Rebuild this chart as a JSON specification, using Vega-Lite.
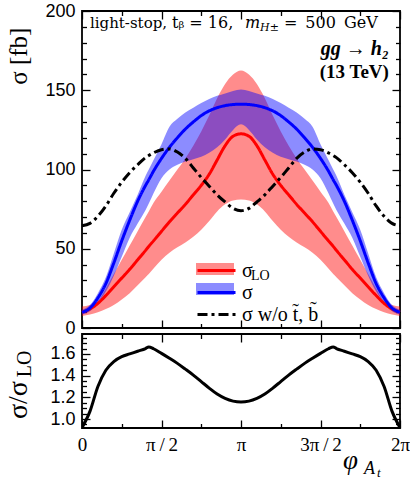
{
  "$schema": "https://vega.github.io/schema/vega-lite/v6.json",
  "background": "white",
  "padding": {"left": 4, "top": 1, "right": 0, "bottom": 0},
  "spacing": 6,
  "bounds": "flush",
  "config": {
    "view": {"stroke": "black", "strokeWidth": 1.8},
    "axis": {"grid": false, "domain": false, "tickColor": "black", "tickWidth": 1.3, "labelColor": "black", "labelFont": "Liberation Sans", "labelFontSize": 18, "title": null},
    "legend": {"padding": 0}
  },
  "datasets": {
    "d": [
      {"phi": 0, "lo_min": 7.5, "lo": 10, "lo_max": 13.5, "nlo_min": 8.5, "nlo": 10, "nlo_max": 11.5, "nosq": 64.5, "ratio": 0.92},
      {"phi": 0.05, "lo_min": 8.5, "lo": 12, "lo_max": 14.5, "nlo_min": 10.5, "nlo": 12.5, "nlo_max": 14.5, "nosq": 66, "ratio": 1.07},
      {"phi": 0.1, "lo_min": 10, "lo": 15.5, "lo_max": 17, "nlo_min": 16, "nlo": 19, "nlo_max": 22, "nosq": 70.5, "ratio": 1.3},
      {"phi": 0.15, "lo_min": 12, "lo": 20.5, "lo_max": 25, "nlo_min": 23, "nlo": 28, "nlo_max": 32, "nosq": 77, "ratio": 1.45},
      {"phi": 0.2, "lo_min": 14.5, "lo": 26, "lo_max": 34, "nlo_min": 33, "nlo": 41, "nlo_max": 47, "nosq": 85, "ratio": 1.53},
      {"phi": 0.25, "lo_min": 18, "lo": 31.5, "lo_max": 43, "nlo_min": 45, "nlo": 55, "nlo_max": 62, "nosq": 92, "ratio": 1.575},
      {"phi": 0.3, "lo_min": 22, "lo": 37, "lo_max": 52, "nlo_min": 57, "nlo": 68, "nlo_max": 73, "nosq": 98, "ratio": 1.6},
      {"phi": 0.35, "lo_min": 27, "lo": 43, "lo_max": 61, "nlo_min": 66, "nlo": 80, "nlo_max": 84, "nosq": 103, "ratio": 1.625},
      {"phi": 0.4, "lo_min": 32, "lo": 49, "lo_max": 70, "nlo_min": 74.5, "nlo": 90, "nlo_max": 96, "nosq": 107.5, "ratio": 1.65},
      {"phi": 0.42, "lo_min": 34, "lo": 51.5, "lo_max": 73.5, "nlo_min": 78.5, "nlo": 93.5, "nlo_max": 100, "nosq": 108.8, "ratio": 1.665},
      {"phi": 0.45, "lo_min": 37.5, "lo": 55, "lo_max": 79, "nlo_min": 85, "nlo": 99, "nlo_max": 106, "nosq": 110.5, "ratio": 1.648},
      {"phi": 0.5, "lo_min": 43, "lo": 61, "lo_max": 86, "nlo_min": 94.5, "nlo": 107, "nlo_max": 116, "nosq": 112.5, "ratio": 1.605},
      {"phi": 0.55, "lo_min": 47.5, "lo": 67, "lo_max": 93, "nlo_min": 100, "nlo": 114, "nlo_max": 127, "nosq": 113, "ratio": 1.56},
      {"phi": 0.6, "lo_min": 51, "lo": 72.5, "lo_max": 100, "nlo_min": 103, "nlo": 120, "nlo_max": 132, "nosq": 111, "ratio": 1.513},
      {"phi": 0.65, "lo_min": 54, "lo": 78, "lo_max": 107, "nlo_min": 105, "nlo": 125.5, "nlo_max": 136, "nosq": 107, "ratio": 1.46},
      {"phi": 0.7, "lo_min": 57.5, "lo": 84, "lo_max": 115, "nlo_min": 106.5, "nlo": 130, "nlo_max": 139, "nosq": 101, "ratio": 1.405},
      {"phi": 0.75, "lo_min": 62, "lo": 90, "lo_max": 124, "nlo_min": 108, "nlo": 134, "nlo_max": 142, "nosq": 95, "ratio": 1.345},
      {"phi": 0.8, "lo_min": 67.5, "lo": 97, "lo_max": 134, "nlo_min": 110.5, "nlo": 137, "nlo_max": 144.5, "nosq": 89.5, "ratio": 1.285},
      {"phi": 0.85, "lo_min": 73.5, "lo": 106, "lo_max": 145, "nlo_min": 114, "nlo": 139, "nlo_max": 146.5, "nosq": 84, "ratio": 1.23},
      {"phi": 0.9, "lo_min": 78, "lo": 115, "lo_max": 154, "nlo_min": 119, "nlo": 140.3, "nlo_max": 148, "nosq": 79.5, "ratio": 1.19},
      {"phi": 0.95, "lo_min": 80.5, "lo": 121, "lo_max": 160, "nlo_min": 125, "nlo": 141, "nlo_max": 149.5, "nosq": 75.5, "ratio": 1.165},
      {"phi": 1.0, "lo_min": 81, "lo": 122.5, "lo_max": 162.5, "nlo_min": 128.5, "nlo": 141.2, "nlo_max": 150.5, "nosq": 74, "ratio": 1.157},
      {"phi": 1.05, "lo_min": 80.5, "lo": 121, "lo_max": 160, "nlo_min": 125, "nlo": 141, "nlo_max": 149.5, "nosq": 75.5, "ratio": 1.165},
      {"phi": 1.1, "lo_min": 78, "lo": 115, "lo_max": 154, "nlo_min": 119, "nlo": 140.3, "nlo_max": 148, "nosq": 79.5, "ratio": 1.19},
      {"phi": 1.15, "lo_min": 73.5, "lo": 106, "lo_max": 145, "nlo_min": 114, "nlo": 139, "nlo_max": 146.5, "nosq": 84, "ratio": 1.23},
      {"phi": 1.2, "lo_min": 67.5, "lo": 97, "lo_max": 134, "nlo_min": 110.5, "nlo": 137, "nlo_max": 144.5, "nosq": 89.5, "ratio": 1.285},
      {"phi": 1.25, "lo_min": 62, "lo": 90, "lo_max": 124, "nlo_min": 108, "nlo": 134, "nlo_max": 142, "nosq": 95, "ratio": 1.345},
      {"phi": 1.3, "lo_min": 57.5, "lo": 84, "lo_max": 115, "nlo_min": 106.5, "nlo": 130, "nlo_max": 139, "nosq": 101, "ratio": 1.405},
      {"phi": 1.35, "lo_min": 54, "lo": 78, "lo_max": 107, "nlo_min": 105, "nlo": 125.5, "nlo_max": 136, "nosq": 107, "ratio": 1.46},
      {"phi": 1.4, "lo_min": 51, "lo": 72.5, "lo_max": 100, "nlo_min": 103, "nlo": 120, "nlo_max": 132, "nosq": 111, "ratio": 1.513},
      {"phi": 1.45, "lo_min": 47.5, "lo": 67, "lo_max": 93, "nlo_min": 100, "nlo": 114, "nlo_max": 127, "nosq": 113, "ratio": 1.56},
      {"phi": 1.5, "lo_min": 43, "lo": 61, "lo_max": 86, "nlo_min": 94.5, "nlo": 107, "nlo_max": 116, "nosq": 112.5, "ratio": 1.605},
      {"phi": 1.55, "lo_min": 37.5, "lo": 55, "lo_max": 79, "nlo_min": 85, "nlo": 99, "nlo_max": 106, "nosq": 110.5, "ratio": 1.648},
      {"phi": 1.58, "lo_min": 34, "lo": 51.5, "lo_max": 73.5, "nlo_min": 78.5, "nlo": 93.5, "nlo_max": 100, "nosq": 108.8, "ratio": 1.665},
      {"phi": 1.6, "lo_min": 32, "lo": 49, "lo_max": 70, "nlo_min": 74.5, "nlo": 90, "nlo_max": 96, "nosq": 107.5, "ratio": 1.65},
      {"phi": 1.65, "lo_min": 27, "lo": 43, "lo_max": 61, "nlo_min": 66, "nlo": 80, "nlo_max": 84, "nosq": 103, "ratio": 1.625},
      {"phi": 1.7, "lo_min": 22, "lo": 37, "lo_max": 52, "nlo_min": 57, "nlo": 68, "nlo_max": 73, "nosq": 98, "ratio": 1.6},
      {"phi": 1.75, "lo_min": 18, "lo": 31.5, "lo_max": 43, "nlo_min": 45, "nlo": 55, "nlo_max": 62, "nosq": 92, "ratio": 1.575},
      {"phi": 1.8, "lo_min": 14.5, "lo": 26, "lo_max": 34, "nlo_min": 33, "nlo": 41, "nlo_max": 47, "nosq": 85, "ratio": 1.53},
      {"phi": 1.85, "lo_min": 12, "lo": 20.5, "lo_max": 25, "nlo_min": 23, "nlo": 28, "nlo_max": 32, "nosq": 77, "ratio": 1.45},
      {"phi": 1.9, "lo_min": 10, "lo": 15.5, "lo_max": 17, "nlo_min": 16, "nlo": 19, "nlo_max": 22, "nosq": 70.5, "ratio": 1.3},
      {"phi": 1.95, "lo_min": 8.5, "lo": 12, "lo_max": 14.5, "nlo_min": 10.5, "nlo": 12.5, "nlo_max": 14.5, "nosq": 66, "ratio": 1.07},
      {"phi": 2.0, "lo_min": 7.5, "lo": 10, "lo_max": 13.5, "nlo_min": 8.5, "nlo": 10, "nlo_max": 11.5, "nosq": 64.5, "ratio": 0.92}
    ]
  },
  "vconcat": [
    {
      "width": 318,
      "height": 317,
      "data": {"name": "d"},
      "resolve": {"axis": {"x": "independent", "y": "independent"}},
      "layer": [
        {
          "mark": {"type": "area", "interpolate": "monotone"},
          "encoding": {
            "x": {"field": "phi", "type": "quantitative", "scale": {"domain": [0, 2], "nice": false, "zero": false},
                  "axis": {"orient": "bottom", "values": [0, 0.5, 1, 1.5, 2], "labels": false, "tickSize": -8}},
            "y": {"field": "lo_min", "type": "quantitative", "scale": {"domain": [0, 200], "nice": false},
                  "axis": {"orient": "left", "values": [0, 50, 100, 150, 200], "tickSize": -8, "labelPadding": 15}},
            "y2": {"field": "lo_max"},
            "fill": {"datum": "LO", "type": "nominal",
                     "scale": {"domain": ["LO", "NLO"], "range": ["rgba(255,0,0,0.45)", "rgba(0,0,255,0.45)"]},
                     "legend": {"orient": "none", "legendX": 123, "legendY": 248, "title": null,
                                "symbolType": "M-1.9,-0.6H1.9V0.6H-1.9Z", "symbolSize": 400, "symbolStrokeWidth": 0,
                                "labelFont": "Liberation Serif", "labelFontSize": 20, "labelOffset": 14,
                                "labelExpr": "''", "rowPadding": 0}}
          }
        },
        {
          "mark": {"type": "area", "interpolate": "monotone"},
          "encoding": {
            "x": {"field": "phi", "type": "quantitative",
                  "axis": {"orient": "bottom", "values": [0.25, 0.75, 1.25, 1.75], "labels": false, "tickSize": -4.5}},
            "y": {"field": "nlo_min", "type": "quantitative",
                  "axis": {"orient": "left", "values": [10, 20, 30, 40, 60, 70, 80, 90, 110, 120, 130, 140, 160, 170, 180, 190], "labels": false, "tickSize": -4.5}},
            "y2": {"field": "nlo_max"},
            "fill": {"datum": "NLO", "type": "nominal"}
          }
        },
        {
          "transform": [{"fold": ["lo", "nlo", "nosq"], "as": ["series", "val"]}],
          "mark": {"type": "line", "interpolate": "monotone", "strokeWidth": 3},
          "encoding": {
            "x": {"field": "phi", "type": "quantitative",
                  "axis": {"orient": "top", "values": [0, 0.5, 1, 1.5, 2], "labels": false, "tickSize": -8}},
            "y": {"field": "val", "type": "quantitative",
                  "axis": {"orient": "right", "values": [0, 50, 100, 150, 200], "labels": false, "tickSize": -8}},
            "stroke": {"field": "series", "type": "nominal",
                       "scale": {"domain": ["lo", "nlo", "nosq"], "range": ["#ff0000", "#0000ff", "#000000"]},
                       "legend": {"orient": "none", "legendX": 123, "legendY": 248, "title": null,
                                  "symbolType": "M-1.9,0H1.9", "symbolSize": 400, "symbolStrokeWidth": 3,
                                  "labelFont": "Liberation Serif", "labelFontSize": 20, "labelOffset": 14, "labelColor": "black",
                                  "labelExpr": "datum.label == 'lo' ? 'σ' : datum.label == 'nlo' ? 'σ' : 'σ w/o t\u0303, b\u0303'", "rowPadding": 0}},
            "strokeDash": {"field": "series", "type": "nominal",
                           "scale": {"domain": ["lo", "nlo", "nosq"], "range": [[1, 0], [1, 0], [10, 4, 3, 4]]},
                           "legend": {"orient": "none", "legendX": 123, "legendY": 248, "title": null,
                                  "symbolType": "M-1.9,0H1.9", "symbolSize": 400, "symbolStrokeWidth": 3,
                                  "labelFont": "Liberation Serif", "labelFontSize": 20, "labelOffset": 14, "labelColor": "black",
                                  "labelExpr": "datum.label == 'lo' ? 'σ' : datum.label == 'nlo' ? 'σ' : 'σ w/o t\u0303, b\u0303'", "rowPadding": 0}}
          }
        },
        {
          "mark": {"type": "point", "opacity": 0},
          "encoding": {
            "x": {"field": "phi", "type": "quantitative",
                  "axis": {"orient": "top", "values": [0.25, 0.75, 1.25, 1.75], "labels": false, "tickSize": -4.5}},
            "y": {"field": "lo", "type": "quantitative",
                  "axis": {"orient": "right", "values": [10, 20, 30, 40, 60, 70, 80, 90, 110, 120, 130, 140, 160, 170, 180, 190], "labels": false, "tickSize": -4.5}}
          }
        },
        {
          "data": {"values": [{}]},
          "mark": {"type": "text", "text": "LO", "align": "left", "baseline": "alphabetic", "font": "Liberation Serif", "fontSize": 14},
          "encoding": {"x": {"datum": 1.063, "type": "quantitative", "axis": null}, "y": {"datum": 30.5, "type": "quantitative", "axis": null}}
        },
        {
          "data": {"values": [{}]},
          "mark": {"type": "text", "text": "σ [fb]", "angle": 270, "align": "center", "baseline": "alphabetic", "font": "Liberation Serif", "fontSize": 25},
          "encoding": {"x": {"datum": -0.346, "type": "quantitative", "axis": null}, "y": {"datum": 171.5, "type": "quantitative", "axis": null}}
        },
        {
          "data": {"values": [{}]},
          "mark": {"type": "text", "text": "light-stop,", "align": "left", "baseline": "alphabetic", "font": "DejaVu Serif", "fontSize": 15},
          "encoding": {"x": {"datum": 0.05, "type": "quantitative", "axis": null}, "y": {"datum": 189.3, "type": "quantitative", "axis": null}}
        },
        {
          "data": {"values": [{}]},
          "mark": {"type": "text", "text": "tᵦ = 16,", "align": "left", "baseline": "alphabetic", "font": "DejaVu Serif", "fontSize": 16},
          "encoding": {"x": {"datum": 0.566, "type": "quantitative", "axis": null}, "y": {"datum": 189.3, "type": "quantitative", "axis": null}}
        },
        {
          "data": {"values": [{}]},
          "mark": {"type": "text", "text": "m", "align": "left", "baseline": "alphabetic", "font": "DejaVu Serif", "fontStyle": "italic", "fontSize": 16},
          "encoding": {"x": {"datum": 1.025, "type": "quantitative", "axis": null}, "y": {"datum": 189.3, "type": "quantitative", "axis": null}}
        },
        {
          "data": {"values": [{}]},
          "mark": {"type": "text", "text": "H±", "align": "left", "baseline": "alphabetic", "font": "DejaVu Serif", "fontStyle": "italic", "fontSize": 11},
          "encoding": {"x": {"datum": 1.12, "type": "quantitative", "axis": null}, "y": {"datum": 187.3, "type": "quantitative", "axis": null}}
        },
        {
          "data": {"values": [{}]},
          "mark": {"type": "text", "text": "=\u2002500\u2002GeV", "align": "left", "baseline": "alphabetic", "font": "DejaVu Serif", "fontSize": 16},
          "encoding": {"x": {"datum": 1.27, "type": "quantitative", "axis": null}, "y": {"datum": 189.3, "type": "quantitative", "axis": null}}
        },
        {
          "data": {"values": [{}]},
          "mark": {"type": "text", "text": "gg → h₂", "align": "right", "baseline": "alphabetic", "font": "Liberation Serif", "fontStyle": "italic", "fontWeight": "bold", "fontSize": 20},
          "encoding": {"x": {"datum": 1.93, "type": "quantitative", "axis": null}, "y": {"datum": 172, "type": "quantitative", "axis": null}}
        },
        {
          "data": {"values": [{}]},
          "mark": {"type": "text", "text": "(13 TeV)", "align": "right", "baseline": "alphabetic", "font": "Liberation Serif", "fontWeight": "bold", "fontSize": 19},
          "encoding": {"x": {"datum": 1.93, "type": "quantitative", "axis": null}, "y": {"datum": 157.5, "type": "quantitative", "axis": null}}
        }
      ]
    },
    {
      "width": 318,
      "height": 94,
      "data": {"name": "d"},
      "resolve": {"axis": {"x": "independent", "y": "independent"}},
      "layer": [
        {
          "mark": {"type": "line", "interpolate": "monotone", "strokeWidth": 3, "color": "black", "clip": true},
          "encoding": {
            "x": {"field": "phi", "type": "quantitative", "scale": {"domain": [0, 2], "nice": false, "zero": false},
                  "axis": {"orient": "bottom", "values": [0, 0.5, 1, 1.5, 2], "tickSize": -8, "labelPadding": 15, "labelFlush": false,
                           "labelFont": "Liberation Serif", "labelFontSize": 19,
                           "labelExpr": "datum.value == 0 ? '0' : datum.value == 0.5 ? 'π\u2009/\u20092' : datum.value == 1 ? 'π' : datum.value == 1.5 ? '3π\u2009/\u20092' : '2π'"}},
            "y": {"field": "ratio", "type": "quantitative", "scale": {"domain": [0.917, 1.784], "nice": false, "zero": false},
                  "axis": {"orient": "left", "values": [1.0, 1.2, 1.4, 1.6], "format": ".1f", "tickSize": -8, "labelPadding": 15}}
          }
        },
        {
          "mark": {"type": "point", "opacity": 0},
          "encoding": {
            "x": {"field": "phi", "type": "quantitative",
                  "axis": {"orient": "bottom", "values": [0.25, 0.75, 1.25, 1.75], "labels": false, "tickSize": -4.5}},
            "y": {"field": "ratio", "type": "quantitative",
                  "axis": {"orient": "left", "values": [0.95, 1.05, 1.1, 1.15, 1.25, 1.3, 1.35, 1.45, 1.5, 1.55, 1.65, 1.7, 1.75], "labels": false, "tickSize": -4.5}}
          }
        },
        {
          "mark": {"type": "point", "opacity": 0},
          "encoding": {
            "x": {"field": "phi", "type": "quantitative",
                  "axis": {"orient": "top", "values": [0, 0.5, 1, 1.5, 2], "labels": false, "tickSize": -8}},
            "y": {"field": "ratio", "type": "quantitative",
                  "axis": {"orient": "right", "values": [1.0, 1.2, 1.4, 1.6], "labels": false, "tickSize": -8}}
          }
        },
        {
          "mark": {"type": "point", "opacity": 0},
          "encoding": {
            "x": {"field": "phi", "type": "quantitative",
                  "axis": {"orient": "top", "values": [0.25, 0.75, 1.25, 1.75], "labels": false, "tickSize": -4.5}},
            "y": {"field": "ratio", "type": "quantitative",
                  "axis": {"orient": "right", "values": [0.95, 1.05, 1.1, 1.15, 1.25, 1.3, 1.35, 1.45, 1.5, 1.55, 1.65, 1.7, 1.75], "labels": false, "tickSize": -4.5}}
          }
        },
        {
          "data": {"values": [{}]},
          "mark": {"type": "text", "text": "σ/σ", "angle": 270, "align": "left", "baseline": "alphabetic", "font": "Liberation Serif", "fontSize": 28},
          "encoding": {"x": {"datum": -0.346, "type": "quantitative", "axis": null}, "y": {"datum": 1.0, "type": "quantitative", "axis": null}}
        },
        {
          "data": {"values": [{}]},
          "mark": {"type": "text", "text": "LO", "angle": 270, "align": "left", "baseline": "alphabetic", "font": "Liberation Serif", "fontSize": 20},
          "encoding": {"x": {"datum": -0.318, "type": "quantitative", "axis": null}, "y": {"datum": 1.385, "type": "quantitative", "axis": null}}
        },
        {
          "data": {"values": [{}]},
          "mark": {"type": "text", "text": "φ", "align": "left", "baseline": "alphabetic", "font": "Liberation Serif", "fontStyle": "italic", "fontSize": 27},
          "encoding": {"x": {"datum": 1.642, "type": "quantitative", "axis": null}, "y": {"datum": 0.539, "type": "quantitative", "axis": null}}
        },
        {
          "data": {"values": [{}]},
          "mark": {"type": "text", "text": "A", "align": "left", "baseline": "alphabetic", "font": "Liberation Serif", "fontStyle": "italic", "fontSize": 18},
          "encoding": {"x": {"datum": 1.774, "type": "quantitative", "axis": null}, "y": {"datum": 0.493, "type": "quantitative", "axis": null}}
        },
        {
          "data": {"values": [{}]},
          "mark": {"type": "text", "text": "t", "align": "left", "baseline": "alphabetic", "font": "Liberation Serif", "fontStyle": "italic", "fontSize": 13},
          "encoding": {"x": {"datum": 1.855, "type": "quantitative", "axis": null}, "y": {"datum": 0.465, "type": "quantitative", "axis": null}}
        }
      ]
    }
  ]
}
